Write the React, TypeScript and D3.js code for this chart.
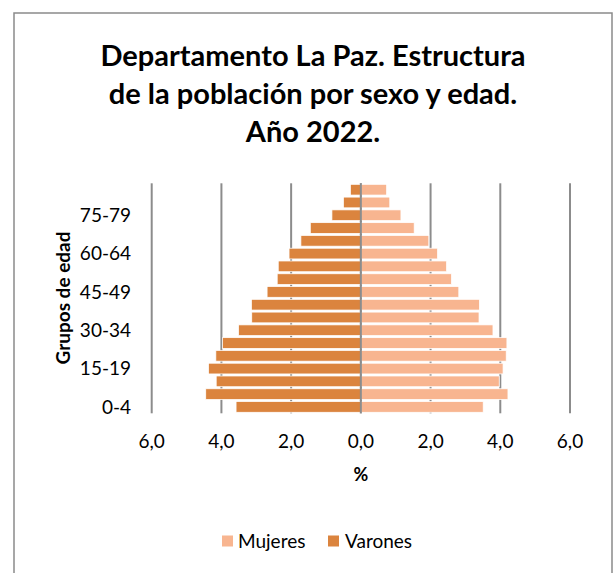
import React from "react";
import * as d3 from "d3";

const ageGroups = ["0-4","5-9","10-14","15-19","20-24","25-29","30-34","35-39","40-44","45-49","50-54","55-59","60-64","65-69","70-74","75-79","80-84","85+"];
const mujeres = [3.51,4.22,3.97,4.08,4.17,4.19,3.79,3.39,3.40,2.81,2.60,2.46,2.20,1.95,1.53,1.15,0.83,0.74];
const varones = [3.58,4.45,4.15,4.37,4.16,3.97,3.51,3.13,3.14,2.69,2.40,2.37,2.06,1.72,1.45,0.83,0.50,0.30];
const shownLabels = ["0-4","15-19","30-34","45-49","60-64","75-79"];
const xTicks = [-6,-4,-2,0,2,4,6];
const titleLines = ["Departamento La Paz. Estructura","de la población por sexo y edad.","Año 2022."];
const seriesNames = ["Mujeres","Varones"];

const W = 613, H = 573;
const COL_M = "#F8B590";
const COL_V = "#DB843E";
const GRID = "#8c8c8c";
const FONT = "Lato, 'Open Sans', sans-serif";

export default function App() {
  const x = d3.scaleLinear().domain([-6, 6]).range([151.7, 570]);
  const y = d3.scaleBand<string>().domain([...ageGroups].reverse()).range([183.3, 413.3]).paddingInner(0.16).paddingOuter(0.08);
  const bw = y.bandwidth();
  const fmt = (v: number) => Math.abs(v).toFixed(1).replace(".", ",");
  const cx = 313;
  return (
    <svg width={W} height={H} style={{ position: "absolute", left: 0, top: 0, background: "#fff" }} fontFamily={FONT}>
      <rect x={14} y={13} width={598} height={600} fill="#fff" stroke="#8a8a8a" strokeWidth={1.5} />
      {titleLines.map((t, i) => (
        <text key={t} x={cx} y={66 + i * 38} textAnchor="middle" fontSize={29} fontWeight={700} fill="#000">{t}</text>
      ))}
      {xTicks.map(t => (
        <line key={"g" + t} x1={x(t)} x2={x(t)} y1={183.3} y2={413.3} stroke={GRID} strokeWidth={2} />
      ))}
      {ageGroups.map((g, i) => (
        <g key={g}>
          <rect x={x(-varones[i])} y={y(g)} width={x(0) - x(-varones[i])} height={bw} fill={COL_V} stroke="#fff" strokeWidth={0.75} />
          <rect x={x(0)} y={y(g)} width={x(mujeres[i]) - x(0)} height={bw} fill={COL_M} stroke="#fff" strokeWidth={0.75} />
        </g>
      ))}
      <line x1={x(0)} x2={x(0)} y1={183.3} y2={413.3} stroke={GRID} strokeWidth={2} />
      {shownLabels.map(g => (
        <text key={g} x={131} y={(y(g) as number) + bw / 2} dy="0.36em" textAnchor="end" fontSize={19} fill="#000">{g}</text>
      ))}
      {xTicks.map(t => (
        <text key={"t" + t} x={x(t)} y={441} dy="0.36em" textAnchor="middle" fontSize={19} fill="#000">{fmt(t)}</text>
      ))}
      <text x={x(0)} y={475} dy="0.36em" textAnchor="middle" fontSize={18} fontWeight={700} fill="#000">%</text>
      <text transform="translate(63,298) rotate(-90)" dy="0.36em" textAnchor="middle" fontSize={19} fontWeight={700} fill="#000">Grupos de edad</text>
      <g>
        <rect x={222} y={535.5} width={11} height={11} fill={COL_M} />
        <text x={238} y={541} dy="0.36em" fontSize={19} fill="#000">{seriesNames[0]}</text>
        <rect x={328} y={535.5} width={11} height={11} fill={COL_V} />
        <text x={345} y={541} dy="0.36em" fontSize={19} fill="#000">{seriesNames[1]}</text>
      </g>
    </svg>
  );
}
